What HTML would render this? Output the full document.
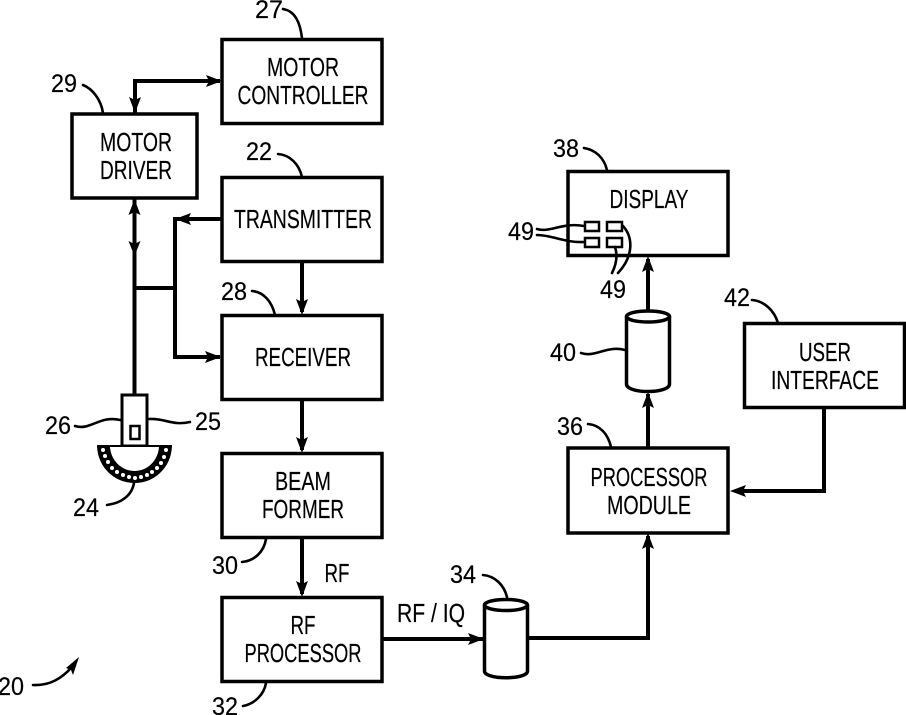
<!DOCTYPE html>
<html><head><meta charset="utf-8"><style>
html,body{margin:0;padding:0;background:#fff}
svg{display:block}
text{font-family:"Liberation Sans",sans-serif;font-size:26px;fill:#000;text-anchor:middle;stroke:#000;stroke-width:.2px}
.n{font-size:25px}
.b{fill:none;stroke:#000;stroke-width:3.5}
.l{fill:none;stroke:#000;stroke-width:4}
.c{fill:none;stroke:#000;stroke-width:2.6;stroke-linecap:round}
.a{fill:#000;stroke:none}
</style></head><body>
<svg width="906" height="715" viewBox="0 0 906 715" xmlns="http://www.w3.org/2000/svg">
<!-- boxes -->
<rect class="b" x="222" y="39.500" width="160" height="84"/>
<rect class="b" x="72" y="114" width="125" height="84"/>
<rect class="b" x="222" y="177.500" width="160" height="84"/>
<rect class="b" x="222" y="315.500" width="160" height="84"/>
<rect class="b" x="222" y="453.500" width="160" height="84"/>
<rect class="b" x="222" y="597.500" width="160" height="84"/>
<rect class="b" x="568" y="171.500" width="160" height="84"/>
<rect class="b" x="744.500" y="323.500" width="160" height="84"/>
<rect class="b" x="568" y="448" width="160" height="85"/>
<!-- box labels -->
<g transform="translate(1 -1)">
<text x="302" y="77" textLength="72" lengthAdjust="spacingAndGlyphs">MOTOR</text>
<text x="302" y="105" textLength="131" lengthAdjust="spacingAndGlyphs">CONTROLLER</text>
<text x="135" y="152" textLength="72" lengthAdjust="spacingAndGlyphs">MOTOR</text>
<text x="135" y="180" textLength="72" lengthAdjust="spacingAndGlyphs">DRIVER</text>
<text x="302" y="229" textLength="138" lengthAdjust="spacingAndGlyphs">TRANSMITTER</text>
<text x="302" y="367" textLength="96" lengthAdjust="spacingAndGlyphs">RECEIVER</text>
<text x="302" y="491" textLength="56" lengthAdjust="spacingAndGlyphs">BEAM</text>
<text x="302" y="519" textLength="82" lengthAdjust="spacingAndGlyphs">FORMER</text>
<text x="302" y="635" textLength="25" lengthAdjust="spacingAndGlyphs">RF</text>
<text x="302" y="663" textLength="117" lengthAdjust="spacingAndGlyphs">PROCESSOR</text>
<text x="648" y="209" textLength="79" lengthAdjust="spacingAndGlyphs">DISPLAY</text>
<text x="824" y="362" textLength="52" lengthAdjust="spacingAndGlyphs">USER</text>
<text x="824" y="390" textLength="108" lengthAdjust="spacingAndGlyphs">INTERFACE</text>
<text x="648" y="487" textLength="117" lengthAdjust="spacingAndGlyphs">PROCESSOR</text>
<text x="648" y="515" textLength="84" lengthAdjust="spacingAndGlyphs">MODULE</text>
</g>
<text x="337" y="582" textLength="25" lengthAdjust="spacingAndGlyphs">RF</text>
<text x="431" y="622" textLength="68" lengthAdjust="spacingAndGlyphs">RF / IQ</text>
<!-- connectors -->
<path class="l" d="M220 81H135V114"/>
<path class="a" d="M222 81L206 75L209 81L206 87Z"/>
<path class="a" d="M135 113L129 97L135 100L141 97Z"/>
<path class="l" d="M134.500 199V394"/>
<path class="a" d="M134.500 199L128.500 215L134.500 212L140.500 215Z"/>
<path class="a" d="M134.500 256L128.500 241L134.500 244L140.500 241Z"/>
<path class="l" d="M135 288H175"/>
<path class="l" d="M221 219H175V357H220"/>
<path class="a" d="M221 357L205 351L208 357L205 363Z"/>
<path class="a" d="M175 219L191 213L188 219L191 225Z"/>
<path class="l" d="M302 262V312"/>
<path class="a" d="M302 315L296 299L302 302L308 299Z"/>
<path class="l" d="M302 400V450"/>
<path class="a" d="M302 453L296 437L302 440L308 437Z"/>
<path class="l" d="M302 538V594"/>
<path class="a" d="M302 597L296 581L302 584L308 581Z"/>
<path class="l" d="M382 639H483"/>
<path class="a" d="M484 639L468 633L471 639L468 645Z"/>
<path class="l" d="M529 638H648V536"/>
<path class="a" d="M648 533L642 549L648 546L654 549Z"/>
<path class="l" d="M648 447V394"/>
<path class="a" d="M648 392L642 408L648 405L654 408Z"/>
<path class="l" d="M648 310V259"/>
<path class="a" d="M648 256L642 272L648 269L654 272Z"/>
<path class="l" d="M824 408V491H735"/>
<path class="a" d="M730 491L746 485L743 491L746 497Z"/>
<!-- cylinder 34 -->
<path class="b" d="M484.500 605V671C484.500 680 527.500 680 527.500 671V605"/>
<ellipse class="b" cx="506" cy="605" rx="21.500" ry="5.500"/>
<!-- cylinder 40 -->
<path class="b" d="M626.500 316.500V384C626.500 394 669.500 394 669.500 384V316.500"/>
<ellipse class="b" cx="648" cy="316.500" rx="21.500" ry="5.500"/>
<!-- probe -->
<rect x="122" y="395" width="25" height="51" fill="#fff" stroke="#000" stroke-width="3"/>
<rect x="130.500" y="426" width="9" height="13" fill="#fff" stroke="#000" stroke-width="2.500"/>
<path d="M98 446H171C170 468 153 482 134.500 482C116 482 99 468 98 446Z" fill="#000" stroke="#000" stroke-width="2"/>
<path d="M110 447H159C158 461 147 471 134.500 471C122 471 111 461 110 447Z" fill="#fff"/>
<g fill="#fff">
<circle cx="103" cy="450" r="2"/><circle cx="105" cy="456" r="2"/><circle cx="108" cy="462" r="2"/><circle cx="112" cy="468" r="2"/><circle cx="117" cy="472" r="2"/><circle cx="123" cy="475" r="2"/><circle cx="129" cy="477" r="2"/><circle cx="135" cy="478" r="2"/><circle cx="141" cy="477" r="2"/><circle cx="147" cy="475" r="2"/><circle cx="152" cy="472" r="2"/><circle cx="157" cy="468" r="2"/><circle cx="161" cy="463" r="2"/><circle cx="164" cy="457" r="2"/><circle cx="166" cy="450" r="2"/>
</g>
<!-- small display widgets -->
<g fill="#fff" stroke="#000" stroke-width="2.500">
<rect x="585" y="222" width="14" height="9"/><rect x="607" y="222" width="15" height="9"/>
<rect x="585" y="238" width="14" height="9"/><rect x="607" y="238" width="15" height="9"/>
</g>
<!-- leaders -->
<path class="c" d="M537 229C550 233 562 222 584 226"/>
<path class="c" d="M537 235C552 235 565 243 584 242"/>
<path class="c" d="M615 247C618 256 616 265 612 273"/>
<path class="c" d="M623 226C633 237 634 256 618 273"/>
<path class="c" d="M283 9C295 11 300 22 302 38"/>
<path class="c" d="M83 85C93 89 101 100 103 113"/>
<path class="c" d="M278 154C290 155 299 164 302 177"/>
<path class="c" d="M252 291C264 292 272 302 275 315"/>
<path class="c" d="M584 148C596 150 604 158 607 170"/>
<path class="c" d="M752 300C764 301 774 310 778 323"/>
<path class="c" d="M581 353C596 358 606 345 625 350"/>
<path class="c" d="M588 424C600 425 608 434 611 447"/>
<path class="c" d="M483 575C495 576 504 585 507 597"/>
<path class="c" d="M242 562C254 561 264 552 266 539"/>
<path class="c" d="M243 706C254 704 264 695 266 683"/>
<path class="c" d="M75 426C90 431 100 415 120 420"/>
<path class="c" d="M149 419C165 418 172 426 190 422"/>
<path class="c" d="M107 505C122 503 132 495 134 483"/>
<path class="c" d="M33 685C50 686 62 678 72 667"/>
<path class="a" d="M79 657L66 668L71 670L73 675Z"/>
<!-- numbers -->
<text class="n" x="269" y="18" textLength="28" lengthAdjust="spacingAndGlyphs">27</text>
<text class="n" x="64" y="92" textLength="26" lengthAdjust="spacingAndGlyphs">29</text>
<text class="n" x="259" y="160" textLength="26" lengthAdjust="spacingAndGlyphs">22</text>
<text class="n" x="234" y="300" textLength="26" lengthAdjust="spacingAndGlyphs">28</text>
<text class="n" x="566" y="157" textLength="26" lengthAdjust="spacingAndGlyphs">38</text>
<text class="n" x="521" y="240" textLength="26" lengthAdjust="spacingAndGlyphs">49</text>
<text class="n" x="613" y="298" textLength="26" lengthAdjust="spacingAndGlyphs">49</text>
<text class="n" x="737" y="306" textLength="26" lengthAdjust="spacingAndGlyphs">42</text>
<text class="n" x="563" y="361" textLength="26" lengthAdjust="spacingAndGlyphs">40</text>
<text class="n" x="570" y="435" textLength="26" lengthAdjust="spacingAndGlyphs">36</text>
<text class="n" x="463" y="583" textLength="26" lengthAdjust="spacingAndGlyphs">34</text>
<text class="n" x="58" y="434" textLength="26" lengthAdjust="spacingAndGlyphs">26</text>
<text class="n" x="208" y="430" textLength="26" lengthAdjust="spacingAndGlyphs">25</text>
<text class="n" x="86" y="516" textLength="26" lengthAdjust="spacingAndGlyphs">24</text>
<text class="n" x="225" y="574" textLength="26" lengthAdjust="spacingAndGlyphs">30</text>
<text class="n" x="225" y="715" textLength="26" lengthAdjust="spacingAndGlyphs">32</text>
<text class="n" x="11" y="695" textLength="26" lengthAdjust="spacingAndGlyphs">20</text>
</svg>
</body></html>
